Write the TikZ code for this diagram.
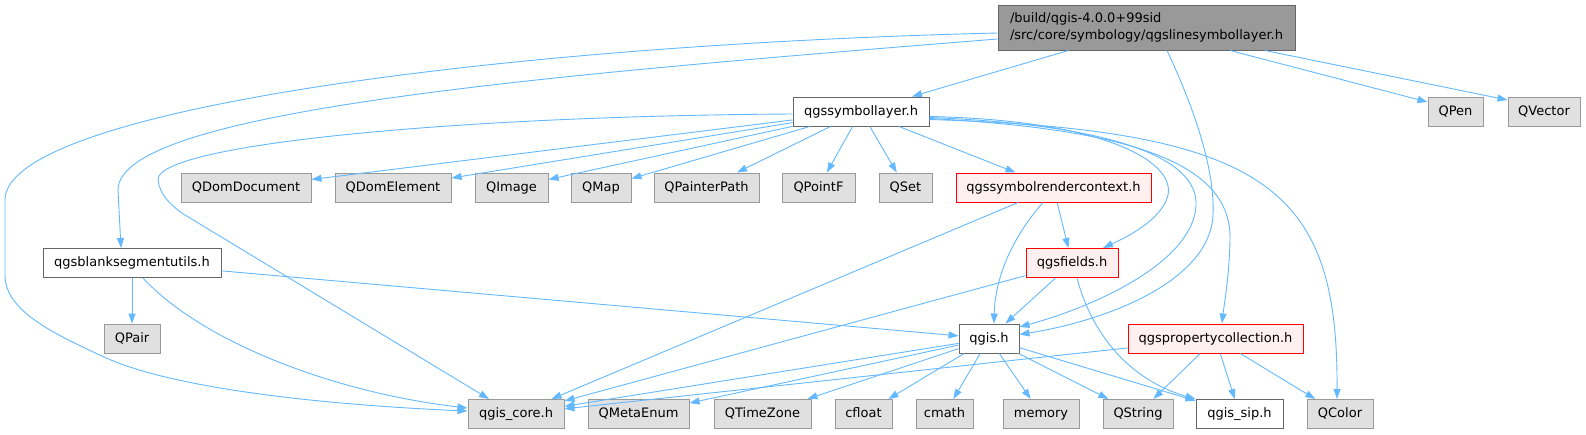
\documentclass[tikz,border=0pt]{standalone}
\usepackage{fontspec}
\setmainfont{DejaVu Sans}
\usetikzlibrary{arrows.meta}
\definecolor{edgec}{HTML}{63B8FF}
\definecolor{grayfill}{HTML}{E0E0E0}
\definecolor{graydraw}{HTML}{999999}
\definecolor{darkdraw}{HTML}{666666}
\definecolor{redfill}{HTML}{FFF0F0}
\definecolor{rootfill}{HTML}{999999}
\begin{document}
\begin{tikzpicture}[x=1pt,y=-1pt,
  nd/.style={rectangle, inner sep=0pt, minimum height=29pt, line width=1pt,
    font=\fontsize{13}{16}\selectfont, text height=9.5pt, text depth=2.5pt},
  ext/.style={nd, fill=grayfill, draw=graydraw},
  file/.style={nd, fill=white, draw=darkdraw},
  redn/.style={nd, fill=redfill, draw=red},
  rootn/.style={rectangle, inner sep=0pt, line width=1pt, fill=rootfill, draw=darkdraw,
    font=\fontsize{13}{16.5}\selectfont, align=left, minimum height=45pt},
  e/.style={draw=edgec, line width=0.9pt, -{Triangle[length=10pt,width=7pt]}}]
\useasboundingbox (0,0) rectangle (1586,434);

% nodes
\node[rootn, minimum width=297pt] (root) at (1146.5,27.5) {/build/qgis-4.0.0+99sid\\/src/core/symbology/qgslinesymbollayer.h};
\node[file, minimum width=136pt] (SL) at (861,111.5) {qgssymbollayer.h};
\node[ext, minimum width=55pt] (QPen) at (1455.5,111.5) {QPen};
\node[ext, minimum width=72pt] (QVector) at (1544,111.5) {QVector};

\node[ext, minimum width=130pt] (QDD) at (246,187.5) {QDomDocument};
\node[ext, minimum width=116pt] (QDE) at (393,187.5) {QDomElement};
\node[ext, minimum width=73pt] (QImage) at (511.5,187.5) {QImage};
\node[ext, minimum width=60pt] (QMap) at (601,187.5) {QMap};
\node[ext, minimum width=105pt] (QPP) at (706.5,187.5) {QPainterPath};
\node[ext, minimum width=73pt] (QPointF) at (818.5,187.5) {QPointF};
\node[ext, minimum width=53pt] (QSet) at (905.5,187.5) {QSet};
\node[redn, minimum width=195pt] (SRC) at (1053.5,187.5) {qgssymbolrendercontext.h};

\node[file, minimum width=178pt] (BS) at (132,263) {qgsblanksegmentutils.h};
\node[redn, minimum width=92pt] (F) at (1072,263) {qgsfields.h};

\node[ext, minimum width=56pt] (QPair) at (132,338.5) {QPair};
\node[file, minimum width=60pt] (qgish) at (989,338.5) {qgis.h};
\node[redn, minimum width=175pt] (PC) at (1215.5,338.5) {qgspropertycollection.h};

\node[ext, minimum width=96pt] (qcore) at (516,414) {qgis\_core.h};
\node[ext, minimum width=101pt] (QME) at (638.5,414) {QMetaEnum};
\node[ext, minimum width=97pt] (QTZ) at (762.5,414) {QTimeZone};
\node[ext, minimum width=57pt] (cfloat) at (863.5,414) {cfloat};
\node[ext, minimum width=57pt] (cmath) at (944.5,414) {cmath};
\node[ext, minimum width=76pt] (memory) at (1041,414) {memory};
\node[ext, minimum width=70pt] (QString) at (1138,414) {QString};
\node[file, minimum width=87pt] (qsip) at (1239.5,414) {qgis\_sip.h};
\node[ext, minimum width=66pt] (QColor) at (1340,414) {QColor};

% edges from root
\draw[e] (root) -- (SL);
\draw[e] ([xshift=83.5pt]root.south) -- ([yshift=9.5pt]QPen.west);
\draw[e] ([xshift=118.5pt]root.south) -- ([yshift=11.5pt]QVector.west);
\draw[e] ([yshift=-5.5pt]root.west) .. controls (500,45) and (5,110) .. (5,200) -- (5,275)
  .. controls (5,310) and (50,332) .. (104,357) .. controls (180,392) and (350,406) .. ([yshift=3pt]qcore.west);
\draw[e] ([yshift=-11.5pt]root.west) .. controls (550,75) and (118,110) .. (118,190) -- ([xshift=-11pt]BS.north);
\draw[e] ([xshift=20.5pt]root.south) .. controls (1195,110) and (1215,170) .. (1213,215)
  .. controls (1210,280) and (1110,320) .. ([yshift=4pt]qgish.east);

% edges from qgssymbollayer.h
\draw[e] (SL) -- (QDD);
\draw[e] (SL) -- (QDE);
\draw[e] (SL) -- (QImage);
\draw[e] (SL) -- (QMap);
\draw[e] (SL) -- (QPP);
\draw[e] (SL) -- (QPointF);
\draw[e] (SL) -- (QSet);
\draw[e] (SL) -- (SRC);
\draw[e] ([yshift=-2.5pt]SL.west) .. controls (450,116) and (155,145) .. (158,180)
  .. controls (160,195) and (170,205) .. (185,215) -- ([xshift=-27pt]qcore.north);
\draw[e] ([yshift=-5pt]SL.east) .. controls (1100,120) and (1175,160) .. (1168,195)
  .. controls (1162,220) and (1125,238) .. ([xshift=31pt]F.north);
\draw[e] ([yshift=-6pt]SL.east) .. controls (1120,125) and (1198,160) .. (1196,205)
  .. controls (1194,260) and (1100,305) .. ([yshift=11.5pt]qgish.east);
\draw[e] ([yshift=-7pt]SL.east) .. controls (1150,130) and (1232,170) .. (1230,240)
  .. controls (1229,280) and (1224,305) .. ([xshift=6.5pt]PC.north);
\draw[e] ([yshift=-8pt]SL.east) .. controls (1270,130) and (1338,190) .. ([xshift=-3pt]QColor.north);

% qgssymbolrendercontext.h
\draw[e] (SRC) -- (qcore);
\draw[e] (SRC) -- (F);
\draw[e] ([xshift=-10.5pt]SRC.south) .. controls (1010,240) and (995,280) .. ([xshift=5pt]qgish.north);

% qgsfields.h
\draw[e] (F) -- (qcore);
\draw[e] (F) -- (qgish);
\draw[e] ([xshift=5pt]F.south) .. controls (1092,335) and (1130,380) .. (qsip.north west);

% qgsblanksegmentutils.h
\draw[e] (BS) -- (QPair);
\draw[e] (BS) -- (qgish);
\draw[e] ([xshift=11pt]BS.south) .. controls (200,340) and (330,392) .. ([yshift=6pt]qcore.west);

% qgis.h
\draw[e] (qgish) -- (qcore);
\draw[e] (qgish) -- (QME);
\draw[e] (qgish) -- (QTZ);
\draw[e] (qgish) -- (cfloat);
\draw[e] (qgish) -- (cmath);
\draw[e] (qgish) -- (memory);
\draw[e] (qgish) -- (QString);
\draw[e] (qgish) -- (qsip);

% qgspropertycollection.h
\draw[e] (PC) -- (qcore);
\draw[e] (PC) -- (QString);
\draw[e] (PC) -- (qsip);
\draw[e] (PC) -- (QColor);
\end{tikzpicture}
\end{document}
